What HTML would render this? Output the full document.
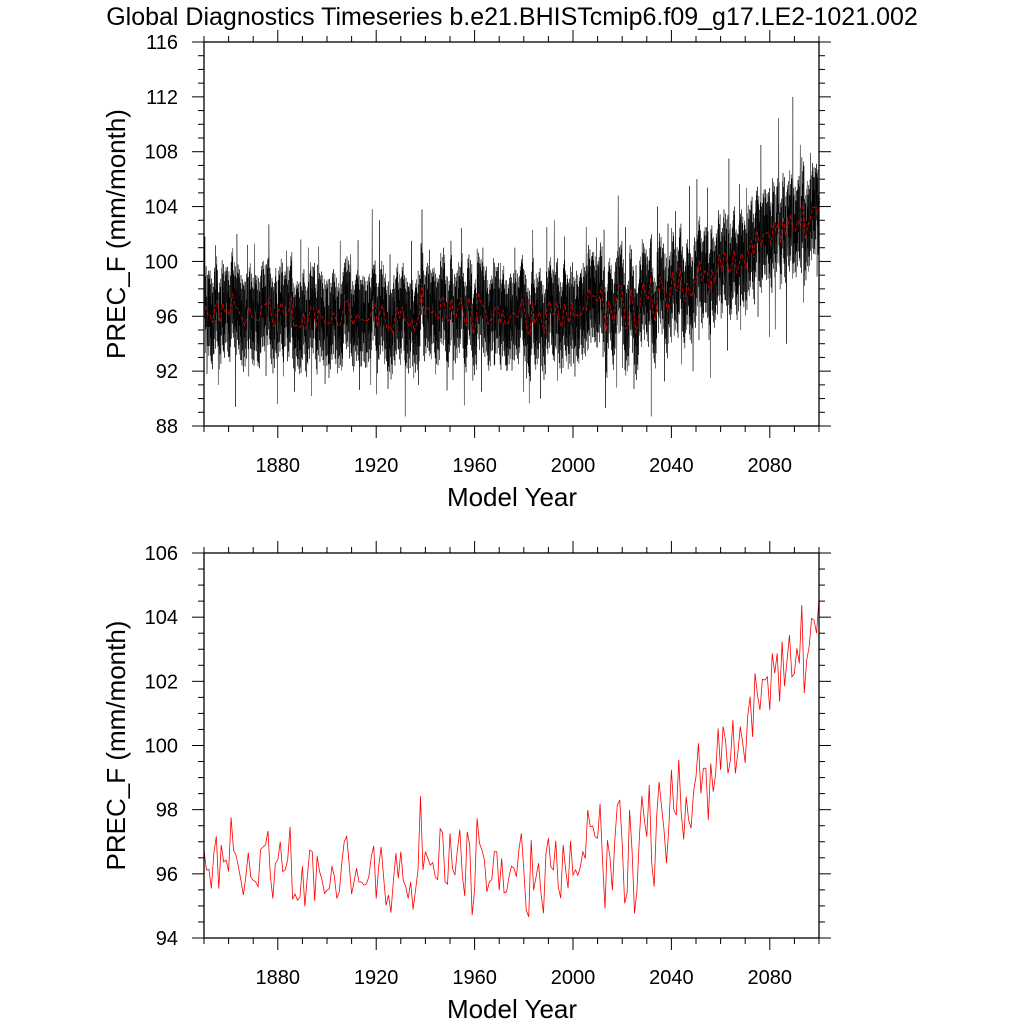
<!DOCTYPE html>
<html><head><meta charset="utf-8"><style>
html,body{margin:0;padding:0;background:#fff;}
svg{display:block;font-family:"Liberation Sans",sans-serif;}
</style></head><body>
<svg id="c" width="1024" height="1024" viewBox="0 0 1024 1024">
<text x="512" y="25" text-anchor="middle" font-size="25">Global Diagnostics Timeseries b.e21.BHISTcmip6.f09_g17.LE2-1021.002</text>
</svg>
<script>
// ---- data ----
const years = [];
for (let y = 1850; y <= 2100; y++) years.push(y);
const annualA = [96.74,96.12,96.14,95.54,96.64,97.17,95.54,96.90,96.37,96.43,96.07,97.76,96.74,96.58,96.22,95.80,95.34,95.91,96.66,95.91,95.80,95.75,95.60,96.76,96.84,96.90,97.34,95.91,95.23,96.32,96.43,97.00,96.07,96.12,96.43,97.47,95.20,95.37,95.18,95.28,96.24,94.99,95.91,96.74,96.69,95.16,96.55,96.07,95.80,95.39,95.49,95.54,96.24,95.91,95.23,95.44,96.32,97.00,97.17,96.32,95.37,95.75,96.17,95.75];
const annualB = [95.75,95.65,95.68,95.91,96.53,96.87,95.23,96.22,96.84,95.91,95.02,95.34,94.79,95.80,96.64,95.86,96.69,95.80,95.60,95.23,95.75,94.89,95.49,96.12,98.42,96.12,96.69,96.48,96.27,96.35,95.91,95.82,97.41,97.28,95.75,95.68,97.26,96.17,95.96,96.74,97.38,95.96,95.31,97.31,96.90,94.71,95.49,97.73,96.95,96.74,96.43,95.44,95.75,95.82,96.69,96.69,95.49,96.48,95.41,95.44,95.91,96.24,96.17];
const annualC = [95.91,96.74,97.26,96.12,94.87,94.66,97.05,95.49,95.91,96.33,95.39,94.77,96.64,97.11,96.22,96.12,97.03,95.60,95.24,96.90,96.12,95.55,97.03,95.96,96.12,95.96,96.22,96.69,96.48,97.99,97.47,97.49,97.16,97.11,98.18,96.43,94.92,97.05,96.53,95.49,97.05,98.14,98.30,96.95,95.08,95.39,97.99,96.74,94.77,95.49,97.16,98.42,97.68,97.16,98.77,96.33,95.60,97.78,98.87,98.09,97.37,96.33,97.5];
const annualD = [99.24,97.99,97.83,99.55,97.89,97.07,98.41,97.68,97.42,98.56,99.03,100.07,98.51,99.29,99.29,97.68,99.44,98.56,99.13,100.53,99.24,100.59,100.17,99.13,99.55,100.79,99.13,99.76,100.59,100.07,99.46,100.90,101.52,100.27,102.25,101.57,101.11,102.06,102.04,102.14,101.11,102.87,102.25,102.87,101.37,103.24,101.85,102.66,103.44,102.14,102.25,103.03,102.56,104.38,101.63,102.66,103.08,103.96,103.91,103.50,104.59];
const annual = annualA.concat(annualB, annualC, annualD);
const decadeHi = [101.8,102.0,102.7,101.6,101.0,101.5,103.8,103.0,101.5,101.0,101.5,101.0,101.0,102.5,103.0,102.5,104.8,102.5,104.0,105.5,106.0,107.5,108.5,112.0,108.5];
const decadeLo = [91.0,89.4,89.6,90.5,90.2,91.5,91.0,90.7,88.7,90.6,89.5,90.5,90.5,90.0,91.3,91.6,90.8,90.7,88.7,92.0,91.5,93.5,94.5,94.0,97.0];
const monthOffsets = [-2.3,2.6,-0.9,3.2,-3.0,1.3,-1.7,2.2,-3.4,0.6,2.9,-1.5];
const xTicks = [1880,1920,1960,2000,2040,2080];
const yTicksTop = [88,92,96,100,104,108,112,116];
const yTicksBot = [94,96,98,100,102,104,106];

const NS = "http://www.w3.org/2000/svg";
const svg = document.getElementById('c');
function el(tag, attrs, parent){const e=document.createElementNS(NS,tag);for(const k in attrs)e.setAttribute(k,attrs[k]);(parent||svg).appendChild(e);return e;}

const X0=204, X1=819;
function xs(t){return X0+(t-1850)/(2100-1850)*(X1-X0);}

function panel(top,bot,ymin,ymax,ticks,minorStep,name){
  const ys=v=>bot-(v-ymin)/(ymax-ymin)*(bot-top);
  const g=el('g',{});
  
  
  for(let yr=1850;yr<=2100;yr+=10){
    const major=xTicks.includes(yr), L=major?12:6, x=xs(yr);
    el('line',{x1:x,x2:x,y1:bot,y2:bot+L,stroke:'#000','stroke-width':1},g);
    el('line',{x1:x,x2:x,y1:top,y2:top-L,stroke:'#000','stroke-width':1},g);
  }
  for(let v=ymin;v<=ymax+1e-6;v+=minorStep){
    const major=ticks.some(t=>Math.abs(t-v)<1e-6), L=major?12:6, y=ys(v);
    el('line',{x1:X0,x2:X0-L,y1:y,y2:y,stroke:'#000','stroke-width':1},g);
    el('line',{x1:X1,x2:X1+L,y1:y,y2:y,stroke:'#000','stroke-width':1},g);
  }
  ticks.forEach(t=>{
    const tx=el('text',{x:178,y:ys(t)+7,'text-anchor':'end','font-size':20},g);
    tx.textContent=t;
    
    
  });
  xTicks.forEach(t=>{
    const tx=el('text',{x:xs(t),y:bot+46,'text-anchor':'middle','font-size':20},g);
    tx.textContent=t;
    
    
  });
  const xt=el('text',{x:512,y:bot+80,'text-anchor':'middle','font-size':26},g);
  xt.textContent='Model Year';
  
  
  const cy=(top+bot)/2;
  const yt=el('text',{x:125,y:cy,'text-anchor':'middle','font-size':26,transform:`rotate(-90 125 ${cy})`},g);
  yt.textContent='PREC_F (mm/month)';
  
  
  return {g,ys};
}

// top panel
const P1=panel(42,426,88,116,yTicksTop,1,'monthly-panel');
let pts=[];
annual.forEach((a,i)=>{
  if(i>=250) return;
  const d=Math.floor(i/10);
  const span=(decadeHi[d]-decadeLo[d]);
  for(let m=0;m<12;m++){
    let v=a+monthOffsets[(m+i*5)%12];
    if(i%10===(d*3)%10 && m===4) v=decadeHi[d];
    if(i%10===(d*7+5)%10 && m===9) v=decadeLo[d];
    if(i%10===(d*3+4)%10 && m===7) v=a+span*0.42;
    if(i%10===(d*7+1)%10 && m===2) v=a-span*0.4;
    pts.push(xs(years[i]+(m+0.5)/12).toFixed(2)+','+P1.ys(v).toFixed(2));
  }
});
const ml=el('polyline',{points:pts.join(' '),fill:'none',stroke:'#000','stroke-width':0.5},P1.g);


const r1=el('polyline',{points:annual.map((a,i)=>xs(years[i]+0.5)+','+P1.ys(a)).join(' '),fill:'none',stroke:'#e00','stroke-width':0.8,'stroke-dasharray':'4 2'},P1.g);


el('rect',{x:X0,y:42,width:X1-X0,height:384,fill:'none',stroke:'#000','stroke-width':1.3},P1.g);

// bottom panel
const P2=panel(553,938,94,106,yTicksBot,0.5,'annual-panel');
const r2=el('polyline',{points:annual.map((a,i)=>xs(years[i])+','+P2.ys(a)).join(' '),fill:'none',stroke:'#f00','stroke-width':0.8},P2.g);


el('rect',{x:X0,y:553,width:X1-X0,height:385,fill:'none',stroke:'#000','stroke-width':1.3},P2.g);
</script>
</body></html>
